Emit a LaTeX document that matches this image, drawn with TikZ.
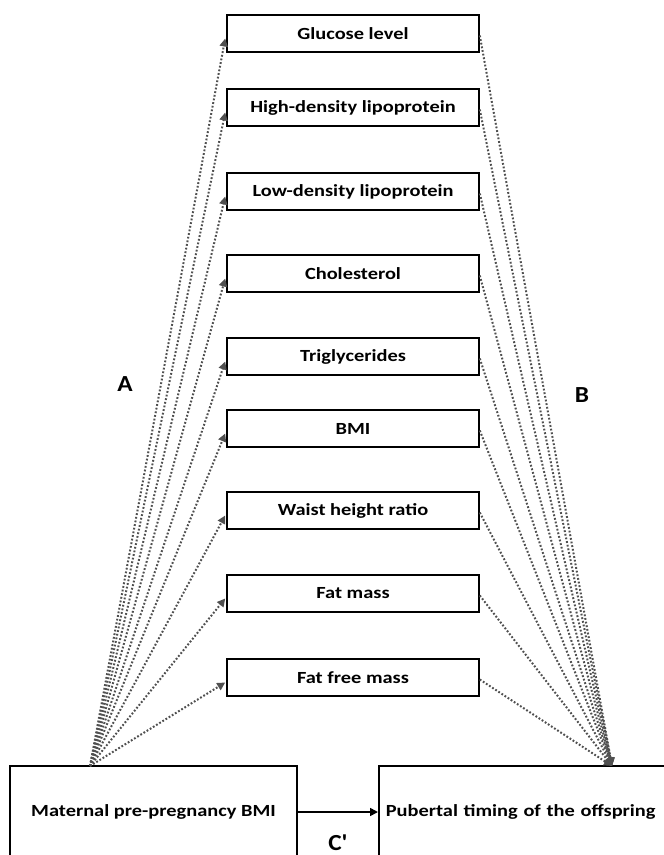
\documentclass[tikz,border=0pt]{standalone}
\usepackage{fontspec}
\setmainfont{Carlito}[FakeStretch=1.2]
\newfontfamily\lblfont{Carlito}[FakeStretch=1.1]
\usetikzlibrary{arrows.meta}
\definecolor{dotgray}{HTML}{505050}
\tikzset{
  med/.style={draw=black, line width=1.6pt, minimum width=252pt, minimum height=37pt, inner sep=0pt, font=\fontsize{17}{19}\selectfont\bfseries},
  bigbox/.style={draw=black, line width=1.6pt, minimum height=92pt, inner sep=0pt, font=\fontsize{17}{19}\selectfont\bfseries},
  path/.style={draw=dotgray, line width=2pt, dash pattern=on 1.8pt off 1.9pt, -{Triangle[length=8pt,width=8pt,fill=dotgray]}},
  lbl/.style={font=\lblfont\fontsize{23}{25}\selectfont\bfseries}
}
\begin{document}
\begin{tikzpicture}[x=1pt,y=-1pt]
\useasboundingbox (0,0) rectangle (664,855);
\clip (0,0) rectangle (664,855);
\node[med] (m1) at (353,33.5) {Glucose level};
\node[med] (m2) at (353,107.5) {High-density lipoprotein};
\node[med] (m3) at (353,191.5) {Low-density lipoprotein};
\node[med] (m4) at (353,273.5) {Cholesterol};
\node[med] (m5) at (353,356.5) {Triglycerides};
\node[med] (m6) at (353,428.5) {BMI};
\node[med] (m7) at (353,510.5) {Waist height ratio};
\node[med] (m8) at (353,593.5) {Fat mass};
\node[med] (m9) at (353,677.5) {Fat free mass};
\node[bigbox, minimum width=287pt] (mat) at (153.5,812) {Maternal pre-pregnancy BMI};
\node[bigbox, text width=288pt, align=left, inner xsep=7pt, anchor=west] (pub) at (378,812) {Pubertal timing of the offspring};
\coordinate (la) at (90,766);
\coordinate (ra) at (612,766);
\foreach \i in {1,...,9}{
  \draw[path] (la) -- ([yshift=-5pt,xshift=-1pt]m\i.west);
  \draw[path] ([yshift=-2pt]m\i.east) -- (ra);
}
\draw[line width=1.6pt, -{Triangle[length=8pt,width=8pt]}] (mat.east) -- (pub.west);
\node[lbl] (A) at (125,384) {A};
\node[lbl] (B) at (582,395) {B};
\node[lbl] (C) at (338,843) {C'};
\end{tikzpicture}
\end{document}
